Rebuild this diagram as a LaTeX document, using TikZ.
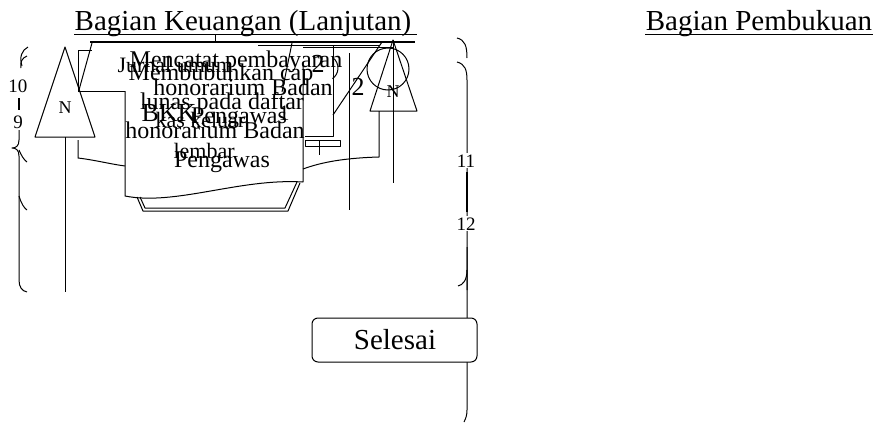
\documentclass[tikz,border=0pt]{standalone}
\usepackage{fontspec}
\setmainfont{Liberation Serif}
\begin{document}
\begin{tikzpicture}[x=1pt,y=-1pt,line width=1pt,line join=round,
  ttl/.style={inner sep=0,anchor=base,font=\fontsize{29}{29}\selectfont},
  txt/.style={inner sep=0,anchor=base,font=\fontsize{24}{24}\selectfont},
  txs/.style={inner sep=0,anchor=base,font=\fontsize{22}{22}\selectfont},
  nlab/.style={inner sep=0,anchor=base,font=\fontsize{18}{18}\selectfont},
  dig/.style={inner sep=1pt,anchor=base,fill=white,font=\fontsize{19}{19}\selectfont},
  two/.style={inner sep=0,anchor=base,font=\fontsize{26}{26}\selectfont},
  endbox/.style={draw,rounded corners=6pt,minimum width=165pt,minimum height=44pt,inner sep=0}]
\fill[white] (0,0) rectangle (881,426);
\useasboundingbox (0,0) rectangle (881,426);

% titles
\node[ttl] (t1) at (243,30) {Bagian Keuangan (Lanjutan)};
\draw (t1.base west) ++(0,4) -- ++(343,0);
\node[ttl] (t2) at (759,30) {Bagian Pembukuan};
\draw (t2.base west) ++(0,4) -- ++(228,0);

% top lines
\draw[line width=1.6pt] (90,42) -- (415,42);
\draw (215,34) -- (215,42);
\draw (303,47) -- (393,47);
\draw (258,45) -- (330,45);

% left document stack / manual shape
\draw (78,92) -- (78,50) -- (92,50);
\draw (92,43) -- (79,90);
\draw (78,91) -- (125,91);
\draw (78,140) -- (78,158) .. controls (95,160) and (110,164) .. (125,166);
\draw (292,43) -- (282,92);

% main document
\draw (303,62) -- (303,182) .. controls (240,178) and (175,206) .. (125,196) -- (125,91);
% shadow document
\draw (140,197) -- (145,208) -- (285,208) -- (297,182);
\draw (137,197) -- (143,211) -- (288,211) -- (300,183);

% right-hand pieces
\draw (303,45) -- (380,45);
\draw (382,42) -- (333,115);
\draw (333,45) -- (333,136) -- (305,136);
\draw (349,53) -- (349,210);
\draw (305,140) rectangle (340,146);
\draw (319,140) -- (319,155);
\draw (325,68) ++(-55:13) arc[start angle=-55,end angle=55,radius=13];
\draw (388,69) circle[radius=21pt];

% left off-page connector
\draw (65,47) -- (35,137) -- (95,137) -- cycle;
\node[nlab] (nl) at (65,113) {N};
\coordinate (nlb) at (65,137);
\coordinate (nle) at (65,292);
\draw (nlb) -- (nle);

% right off-page connector
\draw (393,40) -- (370,111) -- (417,111) -- cycle;
\node[nlab] (nr) at (393,97) {N};
\draw (393,40) -- (393,183);
\draw (379,111) -- (379,157) .. controls (345,158) and (322,162) .. (303,169);

% texts (overlapping as in the reference)
\node[txs,anchor=base west] (jur) at (117,72) {Jurnal umum};
\node[txt] (a1) at (236,67) {Mencatat pembayaran};
\node[txt] (a2) at (243,95) {honorarium Badan};
\node[txt] (a3) at (239,123) {Pengawas};
\node[txt] (b1) at (221,80) {Membubuhkan cap};
\node[txt] (b2) at (222,109) {lunas pada daftar};
\node[txt] (b3) at (215,138) {honorarium Badan};
\node[txt] (b4) at (222,167) {Pengawas};
\node[inner sep=0,anchor=base west,font=\fontsize{26}{26}\selectfont] (bkk) at (141,121) {BKK};
\node[txs] (one) at (284,120) {1};
\node[txs,anchor=base west] (kas) at (155,127) {kas keluar};
\node[txs,anchor=base west] (lem) at (173,158) {lembar};
\node[two] (n2a) at (318,72) {2};
\node[two] (n2b) at (358,95) {2};

% left brace
\draw (28,47) .. controls (22,50) and (19,57) .. (22,66);
\draw (27,56) .. controls (22,58) and (20,62) .. (21,68);
\draw[line width=1.6pt] (19,98) -- (19,110);
\draw (19,130) -- (19,140) .. controls (19,146) and (16,148) .. (12,148)
      .. controls (16,148) and (19,150) .. (19,156) -- (19,280)
      .. controls (19,287) and (22,291) .. (27,292);
\draw (19,196) .. controls (21,203) and (24,208) .. (27,210);
\draw (19,150) .. controls (21,155) and (24,160) .. (27,162);
\node[dig] (l10) at (18,92) {10};
\node[dig] (l9) at (18,128) {9};

% right brace
\draw (457,38) .. controls (465,40) and (467,46) .. (467,58);
\draw (457,62) .. controls (465,64) and (467,70) .. (467,80) -- (467,290);
\draw[line width=1.8pt] (467,172) -- (467,212);
\draw (467,270) .. controls (467,280) and (463,285) .. (458,286);
\draw (467,247) -- (467,410) .. controls (467,415) and (466,418) .. (464,422);
\node[dig] (l11) at (466,167) {11};
\node[dig] (l12) at (466,230) {12};

% end terminator
\node[endbox,fill=white] (sel) at (394.5,340) {};
\node[ttl] (selt) at (395,349) {Selesai};
\end{tikzpicture}
\end{document}
